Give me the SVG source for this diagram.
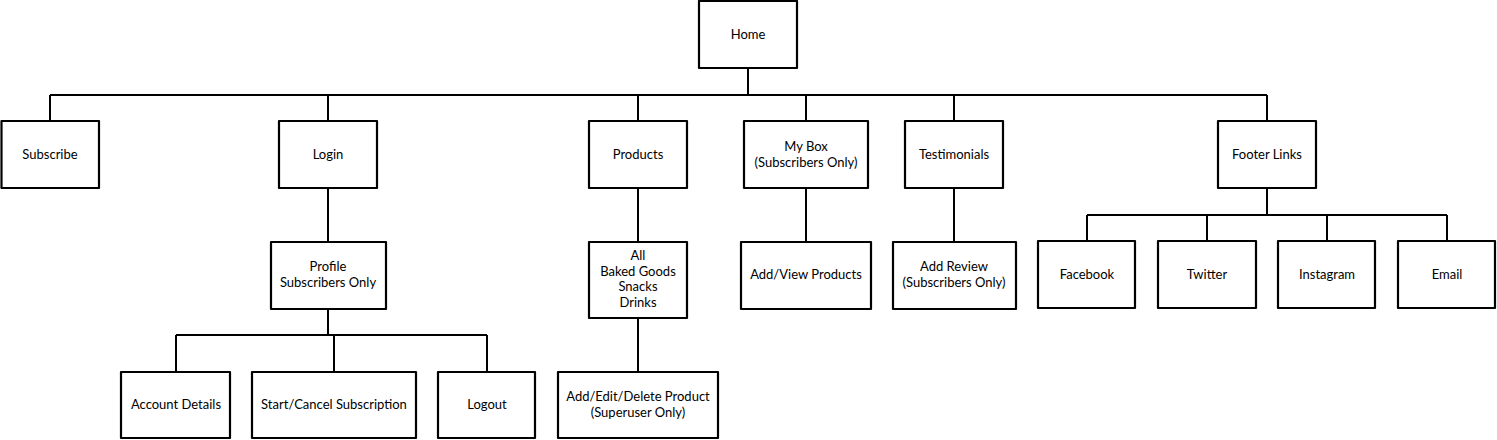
<svg xmlns="http://www.w3.org/2000/svg" width="1497" height="440" viewBox="0 0 1497 440">
<style>
.box{fill:#fff;stroke:#000;stroke-width:2.2;stroke-linejoin:round}
.ln{fill:none;stroke:#000;stroke-width:2}
text{font-family:Lato,"Open Sans","Liberation Sans",sans-serif;font-size:13px;fill:#000;text-anchor:middle;dominant-baseline:central}
</style>
<rect width="1497" height="440" fill="#fff"/>
<g id="connectors">
<path class="ln" d="M748 68V95M50 95H1267M50 95V121M328 95V121M638 95V121M806 95V121M954 95V121M1267 95V121"/>
<path class="ln" d="M328 188V242M328 309V335M176 335H487M176 335V372M334 335V372M487 335V372"/>
<path class="ln" d="M638 188V242M638 318V372"/>
<path class="ln" d="M806 188V242"/>
<path class="ln" d="M954 188V242"/>
<path class="ln" d="M1267 188V215M1087 215H1447M1087 215V241M1207 215V241M1327 215V241M1447 215V241"/>
</g>
<g id="home"><rect class="box" x="699" y="1" width="98" height="67"/><text x="748" y="33.5">Home</text></g>
<g id="subscribe"><rect class="box" x="1.5" y="121" width="97.5" height="67"/><text x="50" y="153.5">Subscribe</text></g>
<g id="login"><rect class="box" x="279" y="121" width="98" height="67"/><text x="328" y="153.5">Login</text></g>
<g id="products"><rect class="box" x="589" y="121" width="98" height="67"/><text x="638" y="153.5">Products</text></g>
<g id="mybox"><rect class="box" x="744" y="121" width="124" height="67"/><text x="806" y="145.5">My Box</text><text x="806" y="161.5">(Subscribers Only)</text></g>
<g id="testimonials"><rect class="box" x="905" y="121" width="98" height="67"/><text x="954" y="153.5">Testimonials</text></g>
<g id="footer"><rect class="box" x="1218" y="121" width="98" height="67"/><text x="1267" y="153.5">Footer Links</text></g>
<g id="profile"><rect class="box" x="271" y="242" width="115" height="67"/><text x="328" y="265.5">Profile</text><text x="328" y="281.5">Subscribers Only</text></g>
<g id="all"><rect class="box" x="589" y="242" width="98" height="76"/><text x="638" y="255">All</text><text x="638" y="270.5">Baked Goods</text><text x="638" y="286">Snacks</text><text x="638" y="301.5">Drinks</text></g>
<g id="addview"><rect class="box" x="741" y="242" width="130" height="67"/><text x="806" y="273.5">Add/View Products</text></g>
<g id="addreview"><rect class="box" x="893" y="242" width="123" height="67"/><text x="954" y="265.5">Add Review</text><text x="954" y="281.5">(Subscribers Only)</text></g>
<g id="facebook"><rect class="box" x="1038" y="241" width="97" height="67"/><text x="1087" y="273.5">Facebook</text></g>
<g id="twitter"><rect class="box" x="1158" y="241" width="98" height="67"/><text x="1207" y="273.5">Twitter</text></g>
<g id="instagram"><rect class="box" x="1278" y="241" width="97" height="67"/><text x="1327" y="273.5">Instagram</text></g>
<g id="email"><rect class="box" x="1398" y="241" width="97" height="67"/><text x="1447" y="273.5">Email</text></g>
<g id="account"><rect class="box" x="121" y="372" width="109" height="66"/><text x="176" y="403.5">Account Details</text></g>
<g id="startcancel"><rect class="box" x="252" y="372" width="164" height="66"/><text x="334" y="403.5">Start/Cancel Subscription</text></g>
<g id="logout"><rect class="box" x="438" y="372" width="97" height="66"/><text x="487" y="403.5">Logout</text></g>
<g id="addedit"><rect class="box" x="558" y="372" width="160" height="66"/><text x="638" y="395.5">Add/Edit/Delete Product</text><text x="638" y="411.5">(Superuser Only)</text></g>
</svg>
